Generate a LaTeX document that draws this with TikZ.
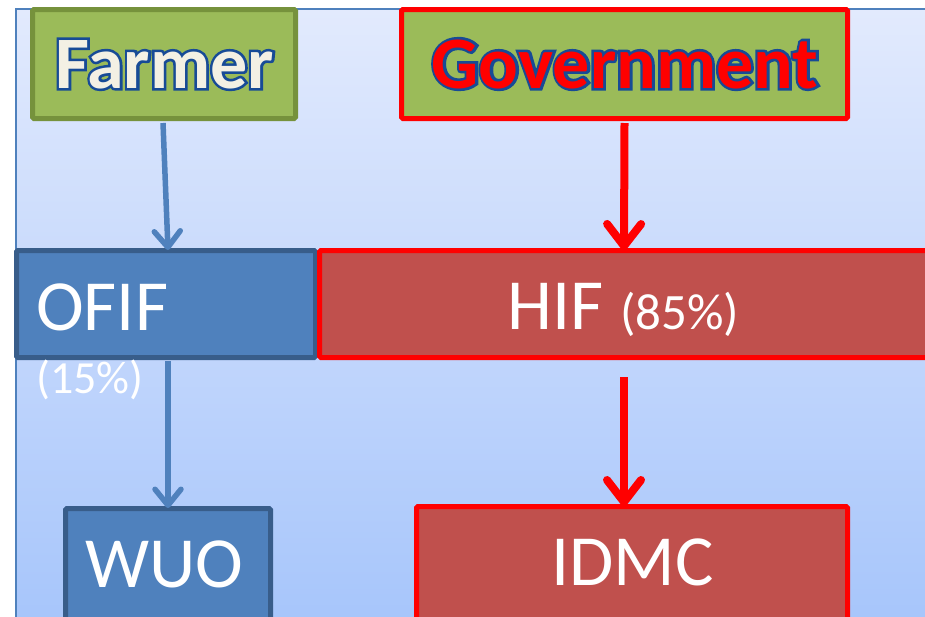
\documentclass[tikz,border=0pt]{standalone}
\usepackage{fontspec}
\setmainfont{Carlito}
\newfontfamily\outlinefont{Carlito Bold}[FakeBold=7]
\newfontfamily\boldface{Carlito Bold}
\usetikzlibrary{arrows.meta,calc}
\definecolor{bgtop}{RGB}{226,234,253}
\definecolor{bgbot}{RGB}{166,197,251}
\definecolor{frameblue}{RGB}{79,129,189}
\definecolor{olivefill}{RGB}{155,187,89}
\definecolor{olivedark}{RGB}{118,146,60}
\definecolor{bluefill}{RGB}{79,129,189}
\definecolor{bluedark}{RGB}{56,93,138}
\definecolor{redfill}{RGB}{192,80,77}
\definecolor{outlineblue}{RGB}{23,75,150}
\definecolor{creamtext}{RGB}{243,240,228}
\newcommand\outlinedtext[3]{%
  \rlap{\outlinefont\textcolor{#1}{#3}}\textcolor{#2}{\boldface #3}}
\tikzset{
  boxbase/.style={draw,rectangle,rounded corners=1.5pt,line width=5pt,inner sep=0pt},
  greenbox/.style={boxbase,fill=olivefill},
  bluebox/.style={boxbase,fill=bluefill,draw=bluedark},
  redbox/.style={boxbase,fill=redfill,draw=red},
  bigtext/.style={font=\fontsize{72}{80}\selectfont,text=white,inner sep=0pt},
  boldtext/.style={font=\fontsize{74}{80}\selectfont,inner sep=0pt},
  pcttext/.style={font=\fontsize{#1}{#1}\selectfont,text=white,inner sep=0pt},
  bluearrow/.style={draw=frameblue,line width=5.5pt,-{Straight Barb[length=16pt,width=26pt,line cap=round,line join=round]}},
  redarrow/.style={draw=red,line width=8pt,-{Straight Barb[length=22pt,width=34pt,line cap=round,line join=round]}}
}
\begin{document}
\begin{tikzpicture}[x=1pt,y=-1pt]
\useasboundingbox (0,0) rectangle (925,616);
\clip (0,0) rectangle (925,616);
\fill[white] (0,0) rectangle (925,616);
\shade[top color=bgtop,bottom color=bgbot] (16,9) rectangle (940,630);
\draw[frameblue,line width=2pt] (16,640) -- (16,9) -- (940,9);

% boxes
\node[greenbox,draw=olivedark,minimum width=263pt,minimum height=109pt] (farmer) at (164,64) {};
\node[greenbox,draw=red,minimum width=446pt,minimum height=109pt] (gov) at (624.5,64) {};
\node[bluebox,minimum width=299pt,minimum height=107pt] (ofif) at (166,304) {};
\node[redbox,minimum width=609pt,minimum height=107pt] (hif) at (624,304) {};
\node[bluebox,minimum width=205pt,minimum height=140pt] (wuo) at (168,578.5) {};
\node[redbox,minimum width=431pt,minimum height=140pt] (idmc) at (632,576.5) {};

% texts
\node[boldtext,anchor=base] (farmertext) at (164.5,88) {\outlinedtext{outlineblue}{creamtext}{Farmer}};
\node[boldtext,anchor=base] (govtext) at (625,88) {\outlinedtext{outlineblue}{red}{Government}};
\node[bigtext,anchor=base west] (ofiftext) at (36,330) {OFIF};
\node[pcttext=46,anchor=base west] (ofifpct) at (36,393) {(15\%)};
\node[anchor=base,inner sep=0pt] (hiftext) at (623.5,329) {\fontsize{72}{80}\selectfont\color{white}HIF \fontsize{51}{60}\selectfont(85\%)};
\node[bigtext,anchor=base] (wuotext) at (164,587) {WUO};
\node[bigtext,anchor=base] (idmctext) at (632.5,585) {IDMC};

% connectors
\draw[bluearrow] ([xshift=-1pt,yshift=-2pt]farmer.south) -- ([xshift=2pt,yshift=-2pt]ofif.north);
\draw[bluearrow] ([xshift=2pt,yshift=-1pt]ofif.south) -- ([yshift=-2pt]wuo.north);
\draw[redarrow] ([yshift=-2pt]gov.south) -- ([yshift=-2pt]hif.north);
\draw[redarrow] ([yshift=-17pt]hif.south) -- ([yshift=-2pt,xshift=-8pt]idmc.north);
\end{tikzpicture}
\end{document}
